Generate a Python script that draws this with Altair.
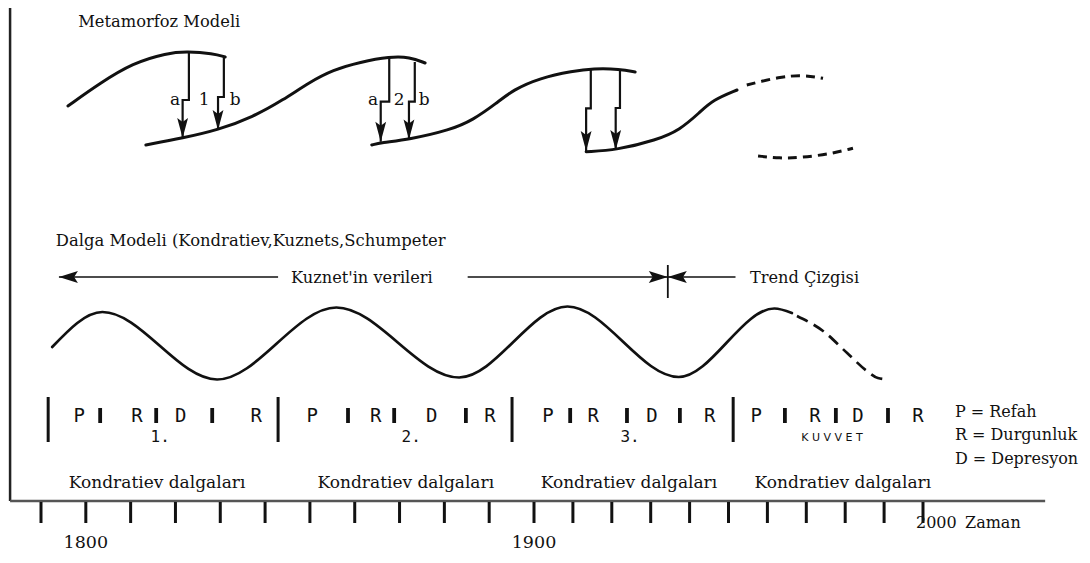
import altair as alt
import pandas as pd

# ---------------- frame ----------------
# time axis of the original is drawn piecewise (decade ticks are not evenly spaced)
TIME_BREAKS = [1790, 1900, 2000]
TIME_RANGE = [33, 526, 915]
LEVEL_DOMAIN = [-54, 493]

tick_years = [1790, 1800, 1810, 1820, 1830, 1840, 1850, 1860, 1870, 1880, 1890,
              1900, 1910, 1920, 1930, 1940, 1950, 1960, 1970, 1980, 1990, 2000]
year_label_years = [1800, 1900]
year_label_text = ["1800", "1900"]

axis_left_year = 1783.1
axis_right_year = 2031.4
axis_top_level = 493

# ---------------- Metamorfoz model ----------------
meta_c1_x = [1796.0, 1803.2, 1810.5, 1818.1, 1822.6, 1828.4, 1831.1]
meta_c1_y = [395, 418, 438, 448, 449.5, 447.5, 444]
meta_c2_x = [1813.4, 1821.7, 1829.5, 1837.3, 1844.0, 1850.0, 1855.1, 1861.2, 1867.9, 1872.3, 1875.7]
meta_c2_y = [356, 363, 371, 384, 401, 419, 431, 439, 444.5, 444, 438]
meta_c3_x = [1863.8, 1865.8, 1872.1, 1881.3, 1886.4, 1891.7, 1895.3, 1901.5, 1910.0, 1915.2, 1922.1, 1926.0]
meta_c3_y = [356, 358.3, 361.5, 371, 381, 398, 411, 423, 430, 432.5, 432, 429]
meta_c4_x = [1913.4, 1921.3, 1931.5, 1937.5, 1942.7, 1946.0, 1952.2]
meta_c4_y = [349.3, 351, 361, 371, 389, 401, 411]
meta_d1_x = [1954.7, 1963.2, 1969.2, 1974.3]
meta_d1_y = [416, 424.3, 426, 422.7]
meta_d2_x = [1957.6, 1963.2, 1968.4, 1976.1, 1982.0]
meta_d2_y = [345, 342.7, 343.3, 347, 352.7]

# shift arrows: top x, top level, step level, lower x, tip level
arr_top_x = [1823.0, 1830.8, 1867.7, 1873.4, 1914.6, 1922.1]
arr_top_y = [448, 444, 444, 439, 432, 431.5]
arr_step_y = [401, 404, 399.3, 399.3, 392.7, 393]
arr_low_x = [1821.6, 1829.5, 1865.8, 1872.1, 1913.4, 1921.0]
arr_tip_y = [363, 371, 359.3, 361.5, 350, 351]

arr_label_text = ["a", "1", "b", "a", "2", "b"]
arr_label_x = [1819.9, 1826.4, 1833.3, 1864.1, 1869.9, 1875.5]
arr_label_y = [396, 396, 396, 396, 396, 396]

# ---------------- Wave model ----------------
wave_x = [1792.5, 1803.7, 1829.3, 1855.9, 1883.3, 1908.6, 1937.2, 1961.8, 1966.3]
wave_y = [154, 189, 121.5, 193.5, 123.5, 194.5, 124, 192.5, 188]
wave_dash_x = [1967.6, 1974.3, 1980.5, 1985.9, 1988.4, 1991.3]
wave_dash_y = [185, 170, 148, 129, 123, 121.5]

kuz_seg_x = [1794.0, 1885.2, 1934.4]
kuz_seg_x2 = [1842.9, 1934.4, 1951.8]
kuz_level = 224
trend_x = 1934.4
trend_y = [203, 236]
kuz_left_heads = [1794.0, 1934.4]
kuz_right_heads = [1934.4]

# ---------------- phases ----------------
big_bar_x = [1791.6, 1842.9, 1895.1, 1951.2]
big_bar_y = [59, 104]
small_bar_x = [1803.2, 1815.7, 1828.2, 1858.5, 1868.8, 1884.8,
               1909.3, 1923.9, 1937.5, 1964.5, 1977.6, 1991.0]
small_bar_y = [78, 93]
phase_text = ["P", "R", "D", "R"] * 4
phase_x = [1798.5, 1811.4, 1821.2, 1838.0,
           1850.5, 1864.7, 1877.2, 1890.2,
           1903.6, 1915.2, 1930.3, 1945.2,
           1957.1, 1972.2, 1983.3, 1998.7]
phase_level = 85

wave_no_text = ["1.", "2.", "3."]
wave_no_x = [1816.6, 1872.6, 1924.7]
kuvvet_x = 1976.6

kond_x = [1815.9, 1871.4, 1924.4, 1979.4]
kond_text = ["Kondratiev dalgaları"] * 4

legend_text = ["P = Refah", "R = Durgunluk", "D = Depresyon"]
legend_y = [84, 61, 37]
legend_x = 2008.2

INK = "#111111"
SERIF = "DejaVu Serif"
MONO = "DejaVu Sans Mono"

xs = alt.Scale(domain=TIME_BREAKS, range=TIME_RANGE, nice=False, zero=False)
ys = alt.Scale(domain=LEVEL_DOMAIN, nice=False, zero=False)


def X(f="x"):
    return alt.X(f"{f}:Q", scale=xs, axis=None)


def Y(f="y"):
    return alt.Y(f"{f}:Q", scale=ys, axis=None)


def long_df(series):
    rows = []
    for k, (xx, yy) in enumerate(series):
        for i, (a, b) in enumerate(zip(xx, yy)):
            rows.append({"id": k, "i": i, "x": a, "y": b})
    return pd.DataFrame(rows)


layers = []

# axes
axis_df = pd.DataFrame({"x": [axis_left_year], "y": [0], "y2": [axis_top_level]})
layers.append(alt.Chart(axis_df).mark_rule(color="#222", strokeWidth=2.5).encode(
    x=X(), y=Y(), y2=alt.Y2("y2:Q")))
base_df = pd.DataFrame({"x": [axis_left_year], "x2": [axis_right_year], "y": [0]})
layers.append(alt.Chart(base_df).mark_rule(color="#555", strokeWidth=2.5).encode(
    x=X(), x2=alt.X2("x2:Q"), y=Y()))
tick_df = pd.DataFrame({"x": tick_years, "y": -1, "y2": -22})
layers.append(alt.Chart(tick_df).mark_rule(color=INK, strokeWidth=3).encode(
    x=X(), y=Y(), y2=alt.Y2("y2:Q")))

# metamorfoz curves
meta_solid = long_df([(meta_c1_x, meta_c1_y), (meta_c2_x, meta_c2_y),
                      (meta_c3_x, meta_c3_y), (meta_c4_x, meta_c4_y)])
layers.append(alt.Chart(meta_solid).mark_line(
    interpolate="basis", color=INK, strokeWidth=3, strokeCap="round").encode(
    x=X(), y=Y(), detail="id:N", order="i:Q"))
meta_dash = long_df([(meta_d1_x, meta_d1_y), (meta_d2_x, meta_d2_y)])
layers.append(alt.Chart(meta_dash).mark_line(
    interpolate="basis", color=INK, strokeWidth=3, strokeDash=[9, 6]).encode(
    x=X(), y=Y(), detail="id:N", order="i:Q"))

# metamorfoz shift arrows
arr_series = []
for tx, ty, sy, lx, tip in zip(arr_top_x, arr_top_y, arr_step_y, arr_low_x, arr_tip_y):
    arr_series.append(([tx, tx, lx, lx], [ty, sy, sy, tip]))
arr_df = long_df(arr_series)
layers.append(alt.Chart(arr_df).mark_line(
    interpolate="linear", color=INK, strokeWidth=2.2, strokeJoin="miter").encode(
    x=X(), y=Y(), detail="id:N", order="i:Q"))
DOWN_HEAD = "M0,0L-0.27,-1L0,-0.8L0.27,-1Z"
head_df = pd.DataFrame({"x": arr_low_x, "y": arr_tip_y})
layers.append(alt.Chart(head_df).mark_point(
    shape=DOWN_HEAD, size=1600, filled=True, color=INK, opacity=1).encode(x=X(), y=Y()))
lab_df = pd.DataFrame({"x": arr_label_x, "y": arr_label_y, "t": arr_label_text})
layers.append(alt.Chart(lab_df).mark_text(
    font=SERIF, fontSize=17, color=INK, align="center", baseline="alphabetic").encode(
    x=X(), y=Y(), text="t:N"))

# wave
wave_df = long_df([(wave_x, wave_y)])
layers.append(alt.Chart(wave_df).mark_line(
    interpolate="monotone", color=INK, strokeWidth=2.7, strokeCap="round").encode(
    x=X(), y=Y(), order="i:Q"))
wave_d_df = long_df([(wave_dash_x, wave_dash_y)])
layers.append(alt.Chart(wave_d_df).mark_line(
    interpolate="monotone", color=INK, strokeWidth=2.7, strokeDash=[12, 7]).encode(
    x=X(), y=Y(), order="i:Q"))

# Kuznet / trend arrows
kz_df = pd.DataFrame({"x": kuz_seg_x, "x2": kuz_seg_x2, "y": kuz_level})
layers.append(alt.Chart(kz_df).mark_rule(color=INK, strokeWidth=1.6).encode(
    x=X(), x2=alt.X2("x2:Q"), y=Y()))
tr_df = pd.DataFrame({"x": [trend_x], "y": [trend_y[0]], "y2": [trend_y[1]]})
layers.append(alt.Chart(tr_df).mark_rule(color=INK, strokeWidth=1.8).encode(
    x=X(), y=Y(), y2=alt.Y2("y2:Q")))
LEFT_HEAD = "M0,0L1,-0.32L0.8,0L1,0.32Z"
RIGHT_HEAD = "M0,0L-1,-0.32L-0.8,0L-1,0.32Z"
lh_df = pd.DataFrame({"x": kuz_left_heads, "y": kuz_level})
layers.append(alt.Chart(lh_df).mark_point(
    shape=LEFT_HEAD, size=1444, filled=True, color=INK, opacity=1).encode(x=X(), y=Y()))
rh_df = pd.DataFrame({"x": kuz_right_heads, "y": kuz_level})
layers.append(alt.Chart(rh_df).mark_point(
    shape=RIGHT_HEAD, size=1444, filled=True, color=INK, opacity=1).encode(x=X(), y=Y()))

# phase bars
bb_df = pd.DataFrame({"x": big_bar_x, "y": big_bar_y[0], "y2": big_bar_y[1]})
layers.append(alt.Chart(bb_df).mark_rule(color=INK, strokeWidth=3).encode(
    x=X(), y=Y(), y2=alt.Y2("y2:Q")))
sb_df = pd.DataFrame({"x": small_bar_x, "y": small_bar_y[0], "y2": small_bar_y[1]})
layers.append(alt.Chart(sb_df).mark_rule(color=INK, strokeWidth=3.8).encode(
    x=X(), y=Y(), y2=alt.Y2("y2:Q")))
ph_df = pd.DataFrame({"x": phase_x, "y": phase_level, "t": phase_text})
layers.append(alt.Chart(ph_df).mark_text(
    font=MONO, fontSize=19, color=INK, align="center", baseline="middle").encode(
    x=X(), y=Y(), text="t:N"))
no_df = pd.DataFrame({"x": wave_no_x, "y": 64, "t": wave_no_text})
layers.append(alt.Chart(no_df).mark_text(
    font=MONO, fontSize=16, color=INK, align="center", baseline="middle").encode(
    x=X(), y=Y(), text="t:N"))
kv_df = pd.DataFrame({"x": [kuvvet_x], "y": [63], "t": ["K U V V E T"]})
layers.append(alt.Chart(kv_df).mark_text(
    font="DejaVu Sans", fontSize=11, color=INK, align="center", baseline="middle").encode(
    x=X(), y=Y(), text="t:N"))

# serif texts
def serif_text(df, size=16, align="left"):
    return alt.Chart(df).mark_text(
        font=SERIF, fontSize=size, color=INK, align=align, baseline="alphabetic").encode(
        x=X(), y=Y(), text="t:N")

layers.append(serif_text(pd.DataFrame({"x": [1798.3], "y": [474], "t": ["Metamorfoz Modeli"]}), 16.3))
layers.append(serif_text(pd.DataFrame({"x": [1793.3], "y": [255],
                                       "t": ["Dalga Modeli (Kondratiev,Kuznets,Schumpeter"]}), 16.4))
layers.append(serif_text(pd.DataFrame({"x": [1861.6], "y": [218], "t": ["Kuznet'in verileri"]}), 16.2, "center"))
layers.append(serif_text(pd.DataFrame({"x": [1955.5], "y": [218], "t": ["Trend Çizgisi"]}), 16.2))
layers.append(serif_text(pd.DataFrame({"x": kond_x, "y": 13, "t": kond_text}), 17, "center"))
layers.append(serif_text(pd.DataFrame({"x": legend_x, "y": legend_y, "t": legend_text}), 16))
layers.append(serif_text(pd.DataFrame({"x": year_label_years, "y": -47, "t": year_label_text}), 17.5, "center"))
layers.append(serif_text(pd.DataFrame({"x": [1998.2, 2010.8], "y": [-27, -27], "t": ["2000", "Zaman"]}), 16))

chart = alt.layer(*layers).properties(
    width=1074, height=547, padding=0,
    autosize=alt.AutoSizeParams(type="none"),
    background="white",
).configure_view(strokeWidth=0)

chart.save("out.html", embed_options={"renderer": "svg", "actions": False})
